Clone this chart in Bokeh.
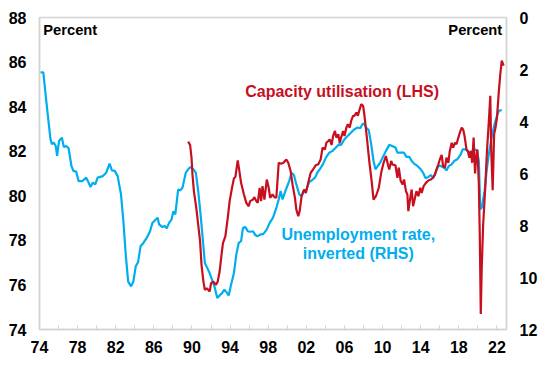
from bokeh.plotting import figure
from bokeh.models import Range1d, LinearAxis, FixedTicker, Label
from bokeh.embed import file_html
from bokeh.resources import INLINE

# ---- data ----
unemp_year = [1974.1, 1974.4, 1974.6, 1974.9, 1975.15, 1975.3, 1975.5, 1975.7, 1975.85, 1976.05,
              1976.35, 1976.55, 1976.8, 1977.05, 1977.35, 1977.55, 1977.85, 1978.1, 1978.5, 1978.9,
              1979.15, 1979.35, 1979.6, 1979.85, 1980.1, 1980.65, 1981.0, 1981.35, 1981.6, 1981.9,
              1982.2, 1982.55, 1982.8, 1983.05, 1983.3, 1983.6, 1983.85, 1984.1, 1984.35, 1984.6,
              1984.9, 1985.25, 1985.6, 1985.85, 1986.2, 1986.4, 1986.55, 1986.9, 1987.15, 1987.35,
              1987.6, 1987.85, 1988.05, 1988.25, 1988.55, 1988.75, 1989.0, 1989.35, 1989.6, 1989.85,
              1990.15, 1990.4, 1990.65, 1990.9, 1991.15, 1991.35, 1991.6, 1991.85, 1992.1, 1992.4,
              1992.65, 1992.9, 1993.15, 1993.4, 1993.7, 1993.85, 1994.1, 1994.4, 1994.65, 1994.9,
              1995.15, 1995.35, 1995.6, 1995.85, 1996.1, 1996.4, 1996.65, 1996.9, 1997.15, 1997.5,
              1997.85, 1998.15, 1998.5, 1998.85, 1999.1, 1999.3, 1999.5, 1999.8, 2000.0, 2000.2,
              2000.45, 2000.7, 2000.95, 2001.25, 2001.5, 2001.75, 2002.0, 2002.3, 2002.5, 2002.9,
              2003.15, 2003.4, 2003.7, 2004.05, 2004.4, 2004.75, 2005.1, 2005.45, 2005.65, 2006.0,
              2006.35, 2006.7, 2007.05, 2007.4, 2007.65, 2007.9, 2008.1, 2008.25, 2008.55, 2008.8,
              2009.05, 2009.25, 2009.5, 2009.75, 2010.0, 2010.35, 2010.7, 2011.0, 2011.35, 2011.55,
              2011.9, 2012.25, 2012.5, 2012.8, 2013.05, 2013.3, 2013.65, 2014.0, 2014.25, 2014.5,
              2014.8, 2015.05, 2015.3, 2015.55, 2015.85, 2016.1, 2016.45, 2016.7, 2016.95, 2017.25,
              2017.5, 2017.85, 2018.2, 2018.4, 2018.7, 2018.95, 2019.2, 2019.45, 2019.7, 2019.9,
              2020.1, 2020.25, 2020.4, 2020.7, 2020.95, 2021.2, 2021.45, 2021.75, 2022.0, 2022.2,
              2022.5]
unemp_rate = [2.11, 2.11, 2.82, 3.85, 4.68, 4.87, 4.81, 4.94, 5.32, 4.75,
              4.62, 4.98, 4.94, 5.03, 5.71, 5.90, 5.93, 6.29, 6.29, 6.16,
              6.35, 6.52, 6.35, 6.42, 6.16, 6.10, 5.97, 5.62, 5.88, 5.90,
              6.10, 6.80, 7.83, 9.12, 10.15, 10.34, 10.15, 9.57, 9.40, 8.80,
              8.67, 8.48, 8.22, 7.90, 7.77, 7.70, 7.96, 8.06, 8.02, 8.11,
              7.90, 7.77, 7.45, 7.57, 6.61, 6.65, 6.55, 5.97, 5.84, 5.75,
              5.84, 5.97, 6.67, 7.57, 8.60, 9.44, 9.63, 9.83, 10.08, 10.40,
              10.79, 10.69, 10.60, 10.47, 10.60, 10.69, 10.28, 9.83, 9.12, 8.67,
              8.60, 8.09, 8.06, 8.22, 8.24, 8.22, 8.37, 8.41, 8.35, 8.32,
              8.15, 7.90, 7.70, 7.32, 7.00, 6.67, 7.00, 6.67, 6.48, 6.29,
              5.97, 6.06, 6.42, 6.80, 6.87, 6.67, 6.61, 6.32, 6.29, 6.16,
              5.97, 5.84, 5.67, 5.39, 5.20, 5.13, 5.00, 4.87, 4.90, 4.68,
              4.55, 4.42, 4.30, 4.23, 4.26, 4.10, 4.08, 4.23, 4.33, 4.87,
              5.52, 5.84, 5.71, 5.58, 5.39, 5.13, 4.90, 4.94, 5.00, 5.20,
              5.20, 5.20, 5.36, 5.36, 5.52, 5.62, 5.71, 5.84, 5.97, 6.18,
              6.13, 6.06, 6.16, 5.97, 5.71, 5.71, 5.78, 5.88, 5.71, 5.65,
              5.52, 5.45, 5.26, 5.07, 5.07, 5.16, 5.20, 5.13, 5.07, 5.13,
              5.52, 7.38, 7.32, 6.67, 5.78, 5.13, 4.59, 4.10, 3.78, 3.59,
              3.56]

cap_year = [1989.6, 1989.8, 1989.95, 1990.05, 1990.2, 1990.45, 1990.65, 1990.85, 1991.0, 1991.2,
            1991.35, 1991.55, 1991.7, 1991.85, 1992.0, 1992.25, 1992.5, 1992.7, 1992.9, 1993.1,
            1993.25, 1993.5, 1993.75, 1993.95, 1994.2, 1994.4, 1994.55, 1994.8, 1995.0, 1995.15,
            1995.45, 1995.7, 1995.95, 1996.1, 1996.4, 1996.55, 1996.75, 1996.9, 1997.1, 1997.25,
            1997.4, 1997.6, 1997.85, 1998.05, 1998.2, 1998.45, 1998.65, 1998.85, 1999.1, 1999.35,
            1999.6, 1999.9, 2000.1, 2000.35, 2000.55, 2000.8, 2000.95, 2001.15, 2001.3, 2001.5,
            2001.75, 2001.95, 2002.2, 2002.45, 2002.7, 2003.0, 2003.25, 2003.5, 2003.7, 2003.95,
            2004.1, 2004.3, 2004.45, 2004.65, 2004.8, 2005.0, 2005.15, 2005.35, 2005.5, 2005.65,
            2005.85, 2006.0, 2006.2, 2006.35, 2006.55, 2006.7, 2006.9, 2007.05, 2007.25, 2007.4,
            2007.6, 2007.75, 2007.95, 2008.1, 2008.35, 2008.6, 2008.85, 2009.05, 2009.3, 2009.6,
            2009.85, 2010.1, 2010.35, 2010.55, 2010.7, 2010.9, 2011.05, 2011.35, 2011.55, 2011.7,
            2011.9, 2012.1, 2012.25, 2012.45, 2012.6, 2012.7, 2012.85, 2013.05, 2013.2, 2013.4,
            2013.55, 2013.75, 2013.95, 2014.1, 2014.3, 2014.55, 2014.8, 2015.05, 2015.3, 2015.5,
            2015.65, 2015.85, 2016.0, 2016.2, 2016.35, 2016.55, 2016.7, 2016.9, 2017.05, 2017.25,
            2017.4, 2017.6, 2017.75, 2017.95, 2018.1, 2018.3, 2018.45, 2018.6, 2018.8, 2018.95,
            2019.1, 2019.25, 2019.4, 2019.55, 2019.7, 2019.8, 2019.95, 2020.1, 2020.2, 2020.3,
            2020.4, 2020.55, 2020.75, 2020.95, 2021.15, 2021.3, 2021.4, 2021.55, 2021.7, 2021.85,
            2022.0, 2022.2, 2022.35, 2022.5, 2022.7]
cap_util = [82.43, 82.28, 81.71, 80.96, 80.21, 79.46, 78.71, 77.95, 76.90, 76.15,
            75.78, 75.85, 75.78, 75.70, 76.08, 76.15, 76.00, 76.15, 76.60, 77.36,
            77.88, 78.18, 79.00, 79.76, 80.36, 80.78, 80.84, 81.59, 81.03, 80.58,
            80.06, 79.68, 79.53, 79.76, 79.83, 79.94, 79.76, 79.68, 80.36, 79.76,
            80.43, 79.83, 80.73, 80.36, 79.91, 80.06, 79.94, 79.91, 81.48, 81.44,
            81.48, 81.63, 81.48, 81.11, 80.51, 79.91, 79.38, 79.08, 79.31, 79.98,
            80.28, 80.13, 80.58, 81.03, 81.18, 81.38, 81.41, 81.63, 82.16, 82.08,
            82.38, 82.46, 82.53, 82.28, 82.68, 82.91, 82.61, 82.76, 82.38, 82.61,
            82.91, 82.68, 83.06, 83.21, 83.06, 83.36, 83.59, 83.59, 83.74, 83.59,
            83.89, 84.11, 84.04, 83.59, 82.61, 81.56, 80.66, 79.83, 79.98, 80.36,
            81.03, 81.48, 81.78, 81.41, 81.18, 81.56, 81.40, 81.37, 80.81, 81.26,
            80.66, 80.51, 80.73, 80.21, 80.06, 79.31, 79.76, 80.28, 79.53, 79.91,
            80.21, 79.98, 80.36, 80.13, 80.43, 80.58, 80.69, 80.73, 80.81, 80.96,
            81.18, 81.41, 81.63, 81.83, 81.33, 81.26, 81.71, 81.48, 82.01, 82.38,
            82.16, 82.38, 82.31, 82.61, 82.83, 83.06, 82.98, 82.68, 82.08, 82.01,
            81.71, 82.01, 81.48, 82.61, 81.00, 81.63, 82.08, 80.51, 78.11, 74.70,
            76.75, 78.71, 80.21, 82.01, 83.36, 84.49, 82.01, 80.25, 82.76, 83.06,
            83.51, 84.71, 85.46, 86.07, 85.84]

x_tick_years = list(range(1974, 2023, 2))
x_tick_labels = ["74", "", "78", "", "82", "", "86", "", "90", "", "94", "", "98", "",
                 "02", "", "06", "", "10", "", "14", "", "18", "", "22"]
left_ticks = [74, 76, 78, 80, 82, 84, 86, 88]
right_ticks = [0, 2, 4, 6, 8, 10, 12]

RED = "#C70F1F"
BLUE = "#00AEEF"
GREY = "#D4D4D4"
FONT = "Liberation Sans"

p = figure(width=540, height=360, output_backend="svg", toolbar_location=None,
           x_range=Range1d(1974, 2023), y_range=Range1d(74, 88),
           min_border_left=39, min_border_right=31, min_border_top=17, min_border_bottom=31)
p.extra_y_ranges = {"u": Range1d(start=12, end=0)}
p.grid.visible = False
p.outline_line_color = GREY
p.outline_line_width = 1.5
p.background_fill_color = "white"
p.border_fill_color = "white"

# x axis
xa = p.xaxis[0]
xa.ticker = FixedTicker(ticks=x_tick_years, minor_ticks=[])
xa.major_label_overrides = {y: l for y, l in zip(x_tick_years, x_tick_labels)}
xa.major_tick_in = 4
xa.major_tick_out = 0
xa.major_tick_line_color = GREY
xa.axis_line_color = GREY
xa.axis_line_width = 1.5
xa.major_label_standoff = 11

# left axis
ya = p.yaxis[0]
ya.ticker = FixedTicker(ticks=left_ticks, minor_ticks=[])
ya.major_tick_line_color = None
ya.major_tick_in = 0
ya.major_tick_out = 0
ya.axis_line_color = GREY
ya.axis_line_width = 1.5
ya.major_label_standoff = 13

# right axis
ra = LinearAxis(y_range_name="u", ticker=FixedTicker(ticks=right_ticks, minor_ticks=[]))
ra.major_tick_line_color = None
ra.major_tick_in = 0
ra.major_tick_out = 0
ra.axis_line_color = GREY
ra.axis_line_width = 1.5
ra.major_label_standoff = 13
p.add_layout(ra, "right")

for ax in [xa, ya, ra]:
    ax.major_label_text_font = FONT
    ax.major_label_text_font_style = "bold"
    ax.major_label_text_font_size = "16px"
    ax.major_label_text_color = "black"
    ax.minor_tick_line_color = None

p.line(unemp_year, unemp_rate, y_range_name="u", line_color=BLUE, line_width=2.2)
p.line(cap_year, cap_util, line_color=RED, line_width=2.2)

def lab(x, y, text, color, align="center", size="16px"):
    p.add_layout(Label(x=x, y=y, text=text, text_color=color, text_font=FONT,
                       text_font_style="bold", text_font_size=size,
                       text_align=align, text_baseline="middle"))

lab(1974.4, 87.45, "Percent", "black", align="left", size="14.7px")
lab(2022.55, 87.45, "Percent", "black", align="right", size="14.7px")
lab(2005.75, 84.7, "Capacity utilisation (LHS)", RED)
lab(2007.45, 78.25, "Unemployment rate,", BLUE)
lab(2007.45, 77.43, "inverted (RHS)", BLUE)

open("out.html", "w").write(file_html(p, INLINE))
